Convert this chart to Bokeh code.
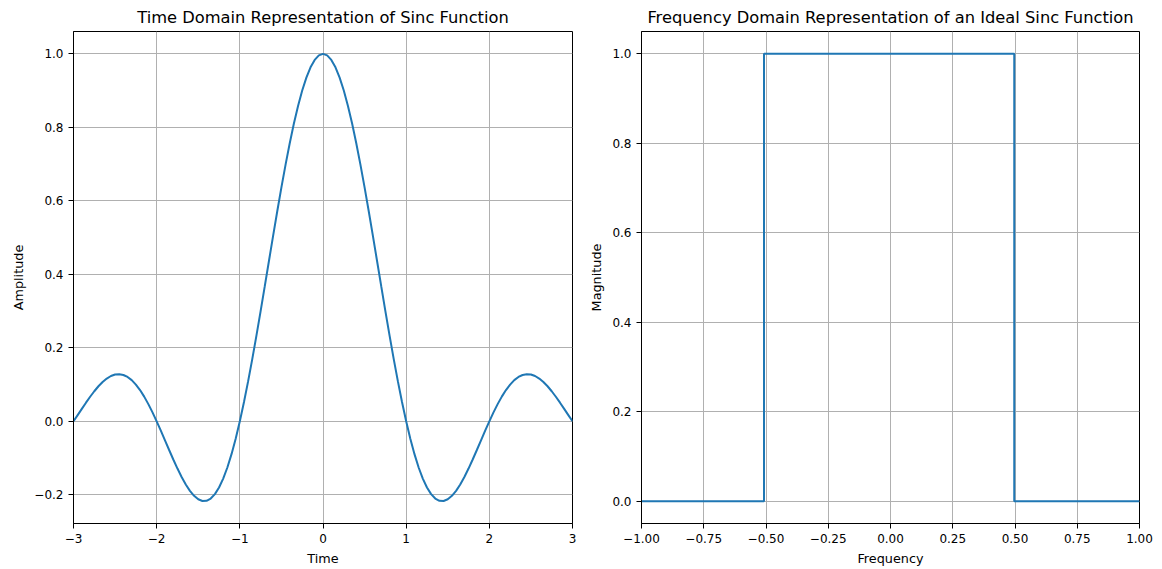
from bokeh.plotting import figure
from bokeh.layouts import row
from bokeh.models import Range1d, FixedTicker
from bokeh.embed import file_html
from bokeh.resources import INLINE

# Time-domain samples (sinc curve), t >= 0 half, mirrored
time_pos = [0.0, 0.05, 0.1, 0.15, 0.2, 0.25, 0.3, 0.35, 0.4, 0.45, 0.5,
            0.55, 0.6, 0.65, 0.7, 0.75, 0.8, 0.85, 0.9, 0.95, 1.0,
            1.05, 1.1, 1.15, 1.2, 1.25, 1.3, 1.35, 1.4, 1.45, 1.5,
            1.55, 1.6, 1.65, 1.7, 1.75, 1.8, 1.85, 1.9, 1.95, 2.0,
            2.05, 2.1, 2.15, 2.2, 2.25, 2.3, 2.35, 2.4, 2.45, 2.5,
            2.55, 2.6, 2.65, 2.7, 2.75, 2.8, 2.85, 2.9, 2.95, 3.0]
amp_pos = [1.0, 0.9959, 0.9836, 0.9634, 0.9355, 0.9003, 0.8584, 0.8103, 0.7568, 0.6987, 0.6366,
           0.5716, 0.5046, 0.4363, 0.3679, 0.3001, 0.2339, 0.1700, 0.1093, 0.0524, 0.0,
           -0.0474, -0.0894, -0.1257, -0.1559, -0.1801, -0.1981, -0.2101, -0.2162, -0.2168, -0.2122,
           -0.2028, -0.1892, -0.1719, -0.1515, -0.1286, -0.1039, -0.0781, -0.0518, -0.0255, 0.0,
           0.0243, 0.0468, 0.0672, 0.0850, 0.1000, 0.1120, 0.1207, 0.1261, 0.1283, 0.1273,
           0.1233, 0.1164, 0.1070, 0.0954, 0.0818, 0.0668, 0.0507, 0.0339, 0.0169, 0.0]
time = [-t for t in time_pos[:0:-1]] + time_pos
amplitude = amp_pos[:0:-1] + amp_pos

# Frequency-domain samples (ideal rectangle)
frequency = [-1.0, -0.508, -0.508, 0.497, 0.497, 1.0]
magnitude = [0.0, 0.0, 1.0, 1.0, 0.0, 0.0]

left_xticks = [-3, -2, -1, 0, 1, 2, 3]
left_yticks = [-0.2, 0.0, 0.2, 0.4, 0.6, 0.8, 1.0]
right_xticks = [-1.0, -0.75, -0.5, -0.25, 0.0, 0.25, 0.5, 0.75, 1.0]
right_yticks = [0.0, 0.2, 0.4, 0.6, 0.8, 1.0]

FONT = "DejaVu Sans"
BLUE = "#1f77b4"


def fmt(v, nd):
    s = f"{v:.{nd}f}"
    return s.replace("-", "\u2212")


def style(p, xt, yt, xnd, ynd, xlabel, ylabel):
    p.title.text_font = FONT
    p.title.text_font_size = "16.3px"
    p.title.text_font_style = "normal"
    p.title.align = "center"
    p.title.text_color = "#000000"
    p.outline_line_color = "#000000"
    p.outline_line_width = 1
    p.xaxis.ticker = FixedTicker(ticks=xt)
    p.yaxis.ticker = FixedTicker(ticks=yt)
    p.xaxis.major_label_overrides = {v: fmt(v, xnd) for v in xt}
    p.yaxis.major_label_overrides = {v: fmt(v, ynd) for v in yt}
    for ax in (p.xaxis[0], p.yaxis[0]):
        ax.major_label_text_font = FONT
        ax.major_label_text_font_size = "12px"
        ax.major_label_text_color = "#000000"
        ax.axis_label_text_font = FONT
        ax.axis_label_text_font_size = "12.8px"
        ax.axis_label_text_font_style = "normal"
        ax.axis_label_text_color = "#000000"
        ax.axis_line_color = "#000000"
        ax.major_tick_line_color = "#000000"
        ax.major_tick_out = 5
        ax.major_tick_in = 0
        ax.minor_tick_out = 0
        ax.minor_tick_in = 0
        ax.axis_label_standoff = 5
    p.xaxis.axis_label = xlabel
    p.yaxis.axis_label = ylabel
    p.grid.grid_line_color = "#b0b0b0"
    p.grid.grid_line_width = 1
    p.background_fill_color = "white"
    p.border_fill_color = "white"


p1 = figure(width=586, height=569, output_backend="svg", toolbar_location=None,
            title="Time Domain Representation of Sinc Function",
            x_range=Range1d(-3, 3), y_range=Range1d(-0.2781, 1.0609),
            min_border_left=73, min_border_right=14, min_border_top=31, min_border_bottom=46)
p1.line(time, amplitude, line_color=BLUE, line_width=2)
style(p1, left_xticks, left_yticks, 0, 1, "Time", "Amplitude")

p2 = figure(width=576, height=569, output_backend="svg", toolbar_location=None,
            title="Frequency Domain Representation of an Ideal Sinc Function",
            x_range=Range1d(-1, 1), y_range=Range1d(-0.05, 1.05),
            min_border_left=55, min_border_right=23, min_border_top=31, min_border_bottom=46)
p2.line(frequency, magnitude, line_color=BLUE, line_width=2)
style(p2, right_xticks, right_yticks, 2, 1, "Frequency", "Magnitude")

layout = row(p1, p2)
open("out.html", "w").write(file_html(layout, INLINE))
